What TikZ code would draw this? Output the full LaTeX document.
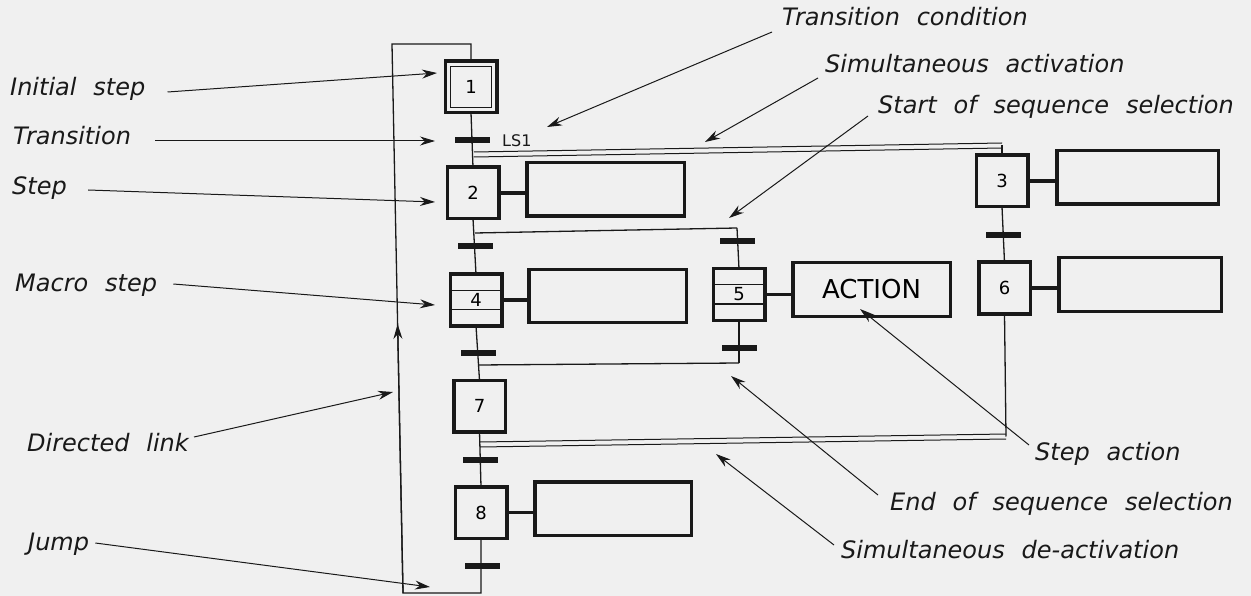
\documentclass[tikz,border=0pt]{standalone}
\usepackage{fontspec}
\setmainfont{DejaVu Sans}
\usetikzlibrary{arrows.meta,calc}
\definecolor{bg}{gray}{0.94}
\definecolor{ink}{gray}{0.1}
\newcommand{\mylblfont}{\fontsize{24}{27}\selectfont\itshape\spaceskip=0.7em plus 0.1em\relax}
\begin{document}
\begin{tikzpicture}[x=1pt,y=-1pt,
  stepbox/.style={draw=ink, line width=3.5pt, minimum width=51.5pt, minimum height=51.5pt, inner sep=0pt, outer sep=0pt, font=\fontsize{18}{18}\selectfont},
  actbox/.style={draw=ink, line width=3.5pt, inner sep=0pt, outer sep=0pt},
  trbar/.style={fill=ink, minimum width=35pt, minimum height=6pt, inner sep=0pt, outer sep=0pt},
  link/.style={draw=ink, line width=1.3pt},
  thinline/.style={draw=ink, line width=1pt},
  actlink/.style={draw=ink, line width=3.5pt},
  lbl/.style={font=\mylblfont, inner sep=0pt, anchor=base west, text=ink},
  lblarrow/.style={draw=ink, line width=1pt, -{Stealth[length=15pt,width=9pt]}},
]
% background / bounding box
\fill[bg] (0,0) rectangle (1251,596);

% double lines (simultaneous activation / de-activation)
\coordinate (sa1) at (474,154.5);
\coordinate (sa2) at (1002,145.5);
\coordinate (sd1) at (480,444.5);
\coordinate (sd2) at (1006,436.5);
\draw[thinline] ([yshift=2.5pt]sa1) -- ([yshift=2.5pt]sa2);
\draw[thinline] ([yshift=-2.5pt]sa1) -- ([yshift=-2.5pt]sa2);
\draw[thinline] ([yshift=2.5pt]sd1) -- ([yshift=2.5pt]sd2);
\draw[thinline] ([yshift=-2.5pt]sd1) -- ([yshift=-2.5pt]sd2);

% selection lines
\coordinate (ss1) at (475,233);
\coordinate (ss2) at (737,228);
\coordinate (se1) at (478,365);
\coordinate (se2) at (739,363);
\draw[link] (ss1) -- (ss2);
\draw[link] (se1) -- (se2);

% steps
\node[stepbox] (s1) at (471,87) {1};
\draw[line width=1pt, draw=ink] ($(s1.south west)+(5,-5)$) rectangle ($(s1.north east)+(-5,5)$);
\node[stepbox] (s2) at (473,193) {2};
\node[stepbox] (s3) at (1002,181) {3};
\node[stepbox] (s4) at (476,300) {4};
\node[stepbox] (s5) at (739,294.5) {5};
\node[stepbox] (s6) at (1004.5,288) {6};
\node[stepbox] (s7) at (479.5,406) {7};
\node[stepbox] (s8) at (481,512.5) {8};
\draw[thinline] ([yshift=9pt]s4.west) -- ([yshift=9pt]s4.east);
\draw[thinline] ([yshift=-9pt]s4.west) -- ([yshift=-9pt]s4.east);
\draw[thinline] ([yshift=9.5pt]s5.west) -- ([yshift=9.5pt]s5.east);
\draw[thinline] ([yshift=-9.5pt]s5.west) -- ([yshift=-9.5pt]s5.east);

% actions
\node[actbox, minimum width=157.5pt, minimum height=53.5pt] (a2) at (605.5,189.5) {};
\node[actbox, minimum width=161.5pt, minimum height=53.5pt] (a3) at (1137.5,177.5) {};
\node[actbox, minimum width=157.5pt, minimum height=52.5pt] (a4) at (607.5,296) {};
\node[actbox, minimum width=157.5pt, minimum height=53.5pt, font=\fontsize{26}{26}\selectfont] (a5) at (871.5,289.5) {ACTION};
\node[actbox, minimum width=162.5pt, minimum height=53.5pt] (a6) at (1140,284.5) {};
\node[actbox, minimum width=156.5pt, minimum height=53.5pt] (a8) at (613,508.5) {};

\draw[actlink] (s2.east) -- (s2.east -| a2.west);
\draw[actlink] (s3.east) -- (s3.east -| a3.west);
\draw[actlink] (s4.east) -- (s4.east -| a4.west);
\draw[actlink] (s5.east) -- (s5.east -| a5.west);
\draw[actlink] (s6.east) -- (s6.east -| a6.west);
\draw[actlink] (s8.east) -- (s8.east -| a8.west);

% transitions
\node[trbar] (t1) at (472.5,140) {};
\node[trbar] (t2) at (475.5,246) {};
\node[trbar] (t5a) at (737,241) {};
\node[trbar] (t4) at (478,353) {};
\node[trbar] (t5b) at (739,348) {};
\node[trbar] (t36) at (1003.5,235) {};
\node[trbar] (t7) at (480,460) {};
\node[trbar] (t8) at (482.5,566) {};
\node[anchor=west, inner sep=0pt, font=\fontsize{16}{16}\selectfont, text=ink] (ls1) at (502,141) {LS1};

% links
\draw[link] (s1.south) -- (s2.north);
\draw[link] (s2.south) -- (s4.north);
\draw[link] (s4.south) -- (s7.north);
\draw[link] (s7.south) -- (s8.north);
\draw[link] (ss2) -- (s5.north);
\draw[link] (s5.south) -- (se2);
\draw[link] (sa2) -- (s3.north);
\draw[link] (s3.south) -- (s6.north);
\draw[link] (s6.south) -- (sd2);

% jump loop
\coordinate (j2) at (403,593);
\coordinate (j3) at (392,44);
\coordinate (j1) at (s8.south |- j2);
\coordinate (j4) at (s1.north |- j3);
\draw[link] (s8.south) -- (j1) -- (j2) -- (j3) -- (j4) -- (s1.north);
\draw[link, -{Stealth[length=15pt,width=9pt]}] (j2) -- ($(j2)!0.49!(j3)$);

% labels left
\node[lbl] (lInit) at (10,96) {Initial step};
\node[lbl] (lTr) at (13,145) {Transition};
\node[lbl] (lStep) at (12,195) {Step};
\node[lbl] (lMacro) at (15,291) {Macro step};
\node[lbl] (lDir) at (27,451) {Directed link};
\node[lbl] (lJump) at (28,550) {Jump};
\coordinate (pInit) at (437,73);
\coordinate (pTr) at (435,141);
\coordinate (pStep) at (435,202);
\coordinate (pMacro) at (435,305);
\coordinate (pDir) at (393,392);
\coordinate (pJump) at (430,587);
\draw[lblarrow] ([shift={(22,-4)}]lInit.base east) -- (pInit);
\draw[lblarrow] ([shift={(24,-4)}]lTr.base east) -- (pTr);
\draw[lblarrow] ([shift={(21,-5)}]lStep.base east) -- (pStep);
\draw[lblarrow] ([shift={(16,-7)}]lMacro.base east) -- (pMacro);
\draw[lblarrow] ([shift={(5,-14)}]lDir.base east) -- (pDir);
\draw[lblarrow] ([shift={(6,-7)}]lJump.base east) -- (pJump);

% labels right
\node[lbl] (lTC) at (782,26) {Transition condition};
\node[lbl] (lSA) at (825,73) {Simultaneous activation};
\node[lbl] (lSS) at (878,114) {Start of sequence selection};
\node[lbl] (lAct) at (1035,460) {Step action};
\node[lbl] (lES) at (890,510) {End of sequence selection};
\node[lbl] (lSD) at (841,558) {Simultaneous de-activation};
\coordinate (pTC) at (547,127);
\coordinate (pSA) at (705,142);
\coordinate (pSS) at (729,218);
\coordinate (pAct) at (860,309);
\coordinate (pES) at (731,376);
\coordinate (pSD) at (716,454);
\draw[lblarrow] ([shift={(-10,6)}]lTC.base west) -- (pTC);
\draw[lblarrow] ([shift={(-7,5)}]lSA.base west) -- (pSA);
\draw[lblarrow] ([shift={(-10,2)}]lSS.base west) -- (pSS);
\draw[lblarrow] ([shift={(-6,-15)}]lAct.base west) -- (pAct);
\draw[lblarrow] ([shift={(-12,-15)}]lES.base west) -- (pES);
\draw[lblarrow] ([shift={(-7,-13)}]lSD.base west) -- (pSD);
\end{tikzpicture}
\end{document}
